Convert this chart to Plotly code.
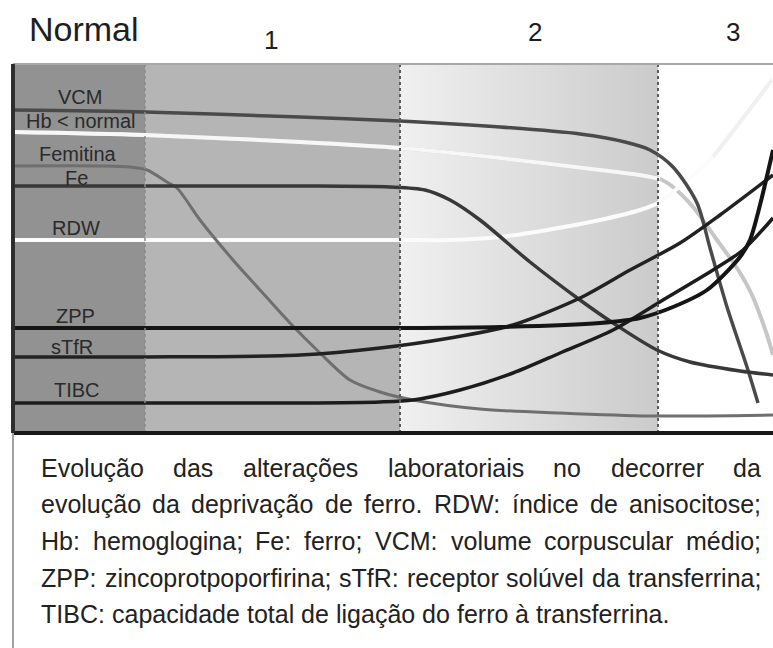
import plotly.graph_objects as go

# ---- stage bands (x positions on the schematic time axis) ----
stage_edges = [13, 145, 400, 658, 773]
stage_names = ["Normal", "1", "2", "3"]

# ---- curves (schematic level; y grows downward) ----
vcm_x = [13, 145, 300, 400, 500, 580, 625, 650, 673, 697, 710, 727, 747, 758]
vcm_y = [110, 112, 117, 121, 127, 134, 142, 150, 167, 203, 248, 307, 367, 403]

hb_x = [13, 145, 300, 400, 500, 600, 640, 660, 673, 693, 717, 737, 752, 767, 773]
hb_y = [132, 135, 142, 148, 158, 170, 175, 179, 187, 207, 240, 268, 295, 335, 355]

rdw_x = [13, 145, 300, 400, 450, 500, 547, 600, 640, 658, 685, 713, 740, 772]
rdw_y = [240, 240, 240, 240, 240, 237, 230, 220, 210, 203, 182, 157, 122, 80]

fer_x = [13, 100, 130, 147, 167, 177, 200, 233, 260, 290, 320, 350, 380, 413, 480, 560, 650, 773]
fer_y = [166, 166, 167, 170, 182, 188, 220, 260, 290, 323, 353, 380, 392, 400, 409, 413, 416, 415]

fe_x = [13, 145, 300, 390, 425, 450, 480, 530, 580, 613, 657, 690, 740, 773]
fe_y = [186, 186, 186, 187, 190, 200, 220, 262, 300, 323, 350, 362, 371, 375]

zpp_x = [13, 145, 300, 400, 500, 600, 640, 673, 707, 740, 750, 760, 773]
zpp_y = [328, 328, 328, 328, 327, 323, 318, 307, 290, 257, 240, 205, 150]

stfr_x = [13, 145, 300, 380, 450, 513, 580, 630, 680, 720, 773]
stfr_y = [357, 357, 355, 348, 338, 325, 298, 270, 243, 215, 175]

tibc_x = [13, 145, 300, 380, 413, 460, 513, 560, 613, 663, 713, 743, 773]
tibc_y = [403, 403, 403, 402, 400, 390, 373, 353, 330, 300, 270, 250, 218]

labels = ["VCM", "Hb < normal", "Femitina", "Fe", "RDW", "ZPP", "sTfR", "TIBC"]
label_x = [80, 81, 78, 76, 76, 75, 72, 77]
label_y = [97, 121, 154, 178, 228, 316, 347, 390]

caption_lines = [
    "Evolução das alterações laboratoriais no decorrer da",
    "evolução da deprivação de ferro. RDW: índice de anisocitose;",
    "Hb: hemoglogina; Fe: ferro; VCM: volume corpuscular médio;",
    "ZPP: zincoprotpoporfirina; sTfR: receptor solúvel da transferrina;",
    "TIBC: capacidade total de ligação do ferro à transferrina.",
]

FONT = "Liberation Sans, Arial, sans-serif"
X0, X1, Y0, Y1 = 13, 773, 433, 64   # plot-area edges in page pixels


def px(x):
    return (x - X0) / (X1 - X0)


def py(y):
    return (Y0 - y) / (Y0 - Y1)


fig = go.Figure()

# stage 2 gradient background
fig.add_trace(go.Scatter(
    x=[stage_edges[2], stage_edges[3], stage_edges[3], stage_edges[2], stage_edges[2]],
    y=[64, 64, 433, 433, 64], mode="lines", fill="toself",
    fillgradient=dict(type="horizontal", colorscale=[[0, "#f0f0f0"], [1, "#cbcbcb"]]),
    line=dict(width=0), hoverinfo="skip", showlegend=False))


def line(x, y, color, width):
    fig.add_trace(go.Scatter(x=x, y=y, mode="lines",
                             line=dict(color=color, width=width, shape="spline", smoothing=0.8),
                             hoverinfo="skip", showlegend=False))


n_hb = len([v for v in hb_x if v <= 660])
line(hb_x, hb_y, "#c6c6c6", 4)
line(hb_x[:n_hb], hb_y[:n_hb], "#f7f7f7", 4)
line(rdw_x, rdw_y, "#fbfbfb", 4)
idx = [i for i, v in enumerate(rdw_x) if v >= 713]
line([rdw_x[i] for i in idx], [rdw_y[i] for i in idx], "#f0f0f0", 4)

line(vcm_x, vcm_y, "#4a4a4a", 3.5)
line(fer_x, fer_y, "#6f6f6f", 3)
line(fe_x, fe_y, "#383838", 3.5)
line(stfr_x, stfr_y, "#222222", 3.5)
line(tibc_x, tibc_y, "#1c1c1c", 3.5)
line(zpp_x, zpp_y, "#151515", 4)

shapes = [
    dict(type="rect", xref="x", yref="y", x0=stage_edges[0], x1=stage_edges[1], y0=64, y1=433,
         fillcolor="#929292", line=dict(width=0), layer="below"),
    dict(type="rect", xref="x", yref="y", x0=stage_edges[1], x1=stage_edges[2], y0=64, y1=433,
         fillcolor="#b5b5b5", line=dict(width=0), layer="below"),
    dict(type="line", xref="x", yref="y", x0=stage_edges[1], x1=stage_edges[1], y0=64, y1=433,
         line=dict(color="#8a8a8a", width=1.5, dash="dot")),
    dict(type="line", xref="x", yref="y", x0=stage_edges[2], x1=stage_edges[2], y0=64, y1=433,
         line=dict(color="#5a5a5a", width=2, dash="dot")),
    dict(type="line", xref="x", yref="y", x0=stage_edges[3], x1=stage_edges[3], y0=64, y1=433,
         line=dict(color="#5a5a5a", width=2, dash="dot")),
    # frame
    dict(type="line", xref="paper", yref="paper", x0=0, x1=1, y0=1, y1=1,
         line=dict(color="#a8a8a8", width=2)),
    dict(type="line", xref="paper", yref="paper", x0=0, x1=1, y0=0, y1=0,
         line=dict(color="#181818", width=4)),
    dict(type="line", xref="paper", yref="paper", x0=0, x1=0, y0=0, y1=1,
         line=dict(color="#2e2e2e", width=4)),
    dict(type="line", xref="paper", yref="paper", x0=0, x1=0, y0=py(648), y1=0,
         line=dict(color="#a0a0a0", width=2)),
]

ann = []
# header
ann.append(dict(x=px(28), y=py(29), xref="paper", yref="paper", text=stage_names[0], showarrow=False,
                xanchor="left", yanchor="middle", font=dict(family=FONT, size=34, color="#1e1e1e"),
                borderpad=0))
for name, xc, yc in zip(stage_names[1:], [271, 535, 733], [40, 32, 32]):
    ann.append(dict(x=px(xc), y=py(yc), xref="paper", yref="paper", text=name, showarrow=False,
                    xanchor="center", yanchor="middle", font=dict(family=FONT, size=26, color="#1e1e1e")))
# curve labels
for t, xc, yc in zip(labels, label_x, label_y):
    ann.append(dict(x=xc, y=yc, xref="x", yref="y", text=t.replace("<", "&lt;"), showarrow=False,
                    xanchor="center", yanchor="middle", font=dict(family=FONT, size=20, color="#2a2a2a")))

# caption, justified with Arial metrics
AW = {' ': 278, '.': 278, ',': 278, ';': 278, ':': 278, '<': 584}
for c, w in zip("abcdefghijklmnopqrstuvwxyz",
                [556, 556, 500, 556, 556, 278, 556, 556, 222, 222, 500, 222, 833, 556, 556, 556, 556,
                 333, 500, 278, 556, 500, 722, 500, 500, 500]):
    AW[c] = w
for c, w in zip("ABCDEFGHIJKLMNOPQRSTUVWXYZ",
                [667, 667, 722, 722, 667, 611, 778, 722, 278, 500, 667, 556, 833, 722, 778, 667, 778,
                 722, 667, 611, 722, 667, 944, 667, 667, 611]):
    AW[c] = w
AW.update({'ç': 500, 'ã': 556, 'õ': 556, 'ú': 556, 'é': 556, 'í': 278, 'à': 556, 'ó': 556})

CFS = 25


def tw(s):
    return sum(AW.get(ch, 556) for ch in s) * CFS / 1000.0


left, right = 40, 760
cap_y = [468, 504, 541, 578, 614]
for i, (txt, yc) in enumerate(zip(caption_lines, cap_y)):
    words = txt.split(" ")
    if i < len(caption_lines) - 1:
        total = sum(tw(w) for w in words)
        gap = (right - left - total) / (len(words) - 1)
    else:
        gap = tw(" ")
    xpos = left
    for w in words:
        ann.append(dict(x=px(xpos), y=py(yc), xref="paper", yref="paper", text=w, showarrow=False,
                        xanchor="left", yanchor="middle", borderpad=0,
                        font=dict(family=FONT, size=CFS, color="#222222")))
        xpos += tw(w) + gap

fig.update_layout(
    width=773, height=648, margin=dict(l=13, r=0, t=64, b=215, pad=0),
    paper_bgcolor="white", plot_bgcolor="white", showlegend=False,
    xaxis=dict(range=[13, 773], visible=False, fixedrange=True),
    yaxis=dict(range=[433, 64], visible=False, fixedrange=True),
    shapes=shapes, annotations=ann,
)

fig.write_html("out.html", config={"displayModeBar": False},
               post_script="document.body.style.margin='0px';")
